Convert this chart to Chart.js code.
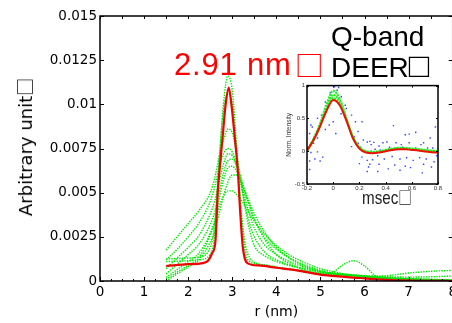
<!DOCTYPE html>
<html>
<head>
<meta charset="utf-8">
<script src="https://cdn.jsdelivr.net/npm/chart.js@4/dist/chart.umd.min.js"></script>
<style>
  html, body { margin: 0; padding: 0; width: 452px; height: 323px; overflow: hidden; background: #fff; }
  #wrap { position: relative; width: 452px; height: 323px; overflow: hidden; }
  canvas { position: absolute; }
  #mainChart { left: 0; top: 0; }
  #insetChart { left: 282px; top: 80px; }
  .lbl { position: absolute; white-space: nowrap; line-height: 1; font-family: "Liberation Sans", Arial, sans-serif; }
  .box { font-family: "Noto Sans CJK JP", sans-serif; line-height: 0; }
</style>
</head>
<body>
<div id="wrap">
  <canvas id="mainChart" width="460" height="323"></canvas>
  <canvas id="insetChart" width="165" height="130"></canvas>
  <div class="lbl" id="ytitle" style="left:26px; top:147px; font-size:18px; font-family:'DejaVu Sans', sans-serif; transform: translate(-50%, -50%) rotate(-90deg);">Arbitrary unit<span class="box" style="font-size:18px;">□</span></div>
  <div class="lbl" style="left:174px; top:49px; font-size:31px; letter-spacing:0.8px; color:#ff0000;">2.91 nm<span class="box" style="font-size:29px; letter-spacing:0; position:relative; left:3px; top:2px;">□</span></div>
  <div class="lbl" style="left:331px; top:23px; font-size:28px; color:#000;">Q-band</div>
  <div class="lbl" style="left:331px; top:54px; font-size:28px; color:#000;">DEER<span style="font-size:34px; line-height:0;">□</span></div>
  <div class="lbl" style="left:362px; top:188px; font-size:19px; color:#222; transform: scaleX(0.8); transform-origin: left top;">msec<span class="box" style="font-size:17px;">□</span></div>
</div>
<script>
// 主グラフ: 距離分布 (縦軸は ×10^-3 単位で保持)
const xTickLabels = ['0', '1', '2', '3', '4', '5', '6', '7', '8'];
const yTickLabels = ['0', '0.0025', '0.005', '0.0075', '0.01', '0.0125', '0.015'];

// フィット結果 (赤)
const redX = [1.5, 2.0, 2.3, 2.45, 2.55, 2.62, 2.67, 2.72, 2.79, 2.85, 2.92, 2.98, 3.05, 3.13, 3.18, 3.24, 3.35, 3.6, 4.0, 4.4, 5.1, 5.9, 6.6, 7.4, 8.0];
const redY = [0.85, 0.95, 1.0, 1.15, 1.6, 2.3, 5.0, 6.5, 8.4, 10.0, 10.95, 10.0, 8.3, 6.1, 3.9, 1.9, 1.0, 0.88, 0.75, 0.63, 0.33, 0.17, 0.05, 0.01, 0.0];

// 検証用の分布 (緑, 点線)
const greenX = [1.5, 1.75, 2.0, 2.25, 2.5, 2.6, 2.7, 2.8, 2.9, 3.0, 3.1, 3.2, 3.3, 3.4, 3.5, 3.75, 4.0, 4.25, 4.5, 5.0, 5.25, 5.5, 5.75, 6.0, 6.25, 6.5, 7.0, 7.5, 8.0];
const green1 = [1.1, 1.12, 1.15, 1.2, 1.5, 2.6, 6.5, 10.0, 11.6, 10.8, 7.5, 3.8, 1.6, 1.1, 1.0, 0.9, 0.8, 0.7, 0.62, 0.45, 0.4, 0.34, 0.3, 0.25, 0.2, 0.16, 0.1, 0.05, 0.02];
const green2 = [1.25, 1.27, 1.3, 1.35, 1.9, 3.2, 6.8, 9.6, 10.6, 10.0, 7.2, 4.0, 2.0, 1.3, 1.05, 0.9, 0.78, 0.68, 0.6, 0.42, 0.36, 0.3, 0.26, 0.22, 0.18, 0.14, 0.08, 0.03, 0.01];
const green3 = [1.75, 2.5, 3.25, 4.0, 5.0, 5.8, 7.0, 8.0, 8.6, 8.4, 7.2, 5.6, 4.0, 2.8, 2.0, 1.4, 1.1, 0.9, 0.75, 0.5, 0.42, 0.36, 0.32, 0.28, 0.24, 0.2, 0.14, 0.1, 0.06];
const green4 = [1.2, 1.8, 2.5, 3.3, 4.5, 5.3, 6.4, 7.2, 7.5, 7.3, 6.6, 5.4, 4.2, 3.2, 2.5, 1.6, 1.2, 0.95, 0.78, 0.52, 0.45, 0.4, 0.35, 0.3, 0.28, 0.3, 0.45, 0.55, 0.6];
const green5 = [0.7, 1.3, 1.9, 2.6, 3.8, 4.5, 5.6, 6.6, 7.2, 7.1, 6.5, 5.6, 4.6, 3.7, 3.0, 2.0, 1.5, 1.15, 0.9, 0.55, 0.45, 0.38, 0.32, 0.28, 0.25, 0.24, 0.22, 0.24, 0.28];
const green6 = [0.4, 0.95, 1.5, 2.1, 3.2, 3.9, 5.0, 6.1, 6.8, 6.9, 6.5, 5.8, 5.0, 4.2, 3.5, 2.4, 1.8, 1.35, 1.0, 0.55, 0.45, 0.38, 0.32, 0.27, 0.22, 0.18, 0.12, 0.08, 0.05];
const green7 = [0.2, 0.65, 1.1, 1.6, 2.7, 3.4, 4.6, 5.7, 6.4, 6.5, 6.2, 5.6, 4.9, 4.2, 3.5, 2.3, 1.5, 1.05, 0.75, 0.38, 0.45, 0.9, 1.15, 0.85, 0.3, 0.15, 0.08, 0.04, 0.02];
const green8 = [0.0, 0.4, 0.8, 1.2, 2.2, 2.8, 3.8, 4.8, 5.6, 6.0, 6.0, 5.6, 5.0, 4.4, 3.8, 2.7, 1.9, 1.4, 1.05, 0.6, 0.45, 0.35, 0.28, 0.22, 0.18, 0.14, 0.08, 0.05, 0.03];
const green9 = [0.1, 0.5, 0.9, 1.35, 2.6, 3.3, 4.2, 4.8, 5.1, 5.1, 4.9, 4.6, 4.2, 3.8, 3.4, 2.6, 2.0, 1.55, 1.2, 0.7, 0.55, 0.42, 0.34, 0.28, 0.22, 0.18, 0.12, 0.08, 0.05];
const greenSeries = [green1, green2, green3, green4, green5, green6, green7, green8, green9];

// 挿入図: DEER 時間領域
const insetXTickLabels = ['-0.2', '0', '0.2', '0.4', '0.6', '0.8'];
const insetYTickLabels = ['-0.5', '0', '0.5', '1'];
const insetX = [-0.2, -0.15, -0.1, -0.05, 0, 0.05, 0.1, 0.15, 0.2, 0.25, 0.3, 0.35, 0.4, 0.45, 0.5, 0.55, 0.6, 0.65, 0.7, 0.75, 0.8];
const insetRed = [0.01, 0.17, 0.38, 0.62, 0.78, 0.70, 0.47, 0.20, 0.04, -0.02, -0.03, -0.02, 0.0, 0.02, 0.03, 0.03, 0.02, 0.01, -0.005, -0.015, -0.02];
const insetGreenA = [0.0, 0.19, 0.42, 0.72, 0.92, 0.80, 0.50, 0.22, 0.06, 0.0, -0.01, 0.0, 0.02, 0.04, 0.05, 0.05, 0.04, 0.03, 0.02, 0.01, 0.0];
const insetGreenB = [0.0, 0.18, 0.40, 0.68, 0.86, 0.76, 0.49, 0.21, 0.05, -0.01, -0.02, -0.01, 0.01, 0.03, 0.04, 0.04, 0.03, 0.02, 0.01, 0.0, -0.01];
const insetGreenC = [0.01, 0.17, 0.39, 0.64, 0.81, 0.72, 0.48, 0.21, 0.05, -0.01, -0.02, -0.01, 0.01, 0.03, 0.04, 0.04, 0.03, 0.02, 0.01, 0.0, 0.0];
const dotX = [0.011, 0.041, 0.03, -0.022, 0.062, -0.06, 0.092, -0.04, 0.10, 0.06, -0.09, -0.12, 0.14, 0.17, 0.0, -0.17, -0.16, -0.03, 0.22, -0.06, 0.19, 0.02, -0.12, -0.18, 0.16, 0.23, 0.26, 0.28, 0.19, 0.14, -0.15, -0.2, 0.21, -0.12, -0.17, -0.08, -0.18, -0.14, -0.1, 0.22, 0.26, 0.2, 0.27, -0.18, 0.26,
  0.46, 0.63, 0.78, 0.55, 0.58, 0.74, 0.31, 0.29, 0.35, 0.38, 0.41, 0.48, 0.52, 0.58, 0.67, 0.69, 0.76, 0.32, 0.36, 0.43, 0.53, 0.63, 0.72, 0.3, 0.34, 0.39, 0.45, 0.51, 0.56, 0.61, 0.66, 0.71, 0.77, 0.35, 0.47, 0.55, 0.69, 0.75, 0.34, 0.42, 0.51, 0.59, 0.68, 0.28, 0.79, 0.29];
const dotY = [0.98, 0.97, 0.93, 0.89, 0.83, 0.75, 0.70, 0.69, 0.65, 0.57, 0.55, 0.5, 0.55, 0.45, 0.45, 0.4, 0.37, 0.4, 0.45, 0.33, 0.3, 0.27, 0.2, 0.27, 0.22, 0.17, 0.14, 0.15, 0.12, 0.07, 0.12, 0.05, 0.06, -0.01, -0.02, -0.09, -0.15, -0.12, -0.15, -0.09, -0.14, -0.19, -0.24, -0.28, -0.31,
  0.39, 0.29, 0.37, 0.25, 0.26, 0.2, 0.135, 0.1, 0.08, 0.13, 0.14, 0.13, 0.1, 0.13, 0.1, 0.13, 0.05, 0.03, 0.02, 0.06, 0.06, 0.05, 0.05, -0.13, -0.07, -0.12, -0.08, -0.12, -0.1, -0.14, -0.1, -0.12, -0.16, -0.2, -0.21, -0.23, -0.2, -0.24, -0.31, -0.27, -0.29, -0.25, -0.33, -0.2, -0.07, 0.0];

/**
 * 枠線と内向きの目盛を描画するプラグイン (MATLAB風)
 */
const frameTicks = {
    id: 'frameTicks',
    beforeDraw(chart) {
        const {ctx, chartArea: a} = chart;
        ctx.save();
        ctx.fillStyle = '#fff';
        ctx.fillRect(a.left, a.top, a.right - a.left, a.bottom - a.top);
        ctx.restore();
    },
    afterDraw(chart, args, opts) {
        const {ctx, chartArea: a, scales: {x, y}} = chart;
        ctx.save();
        ctx.strokeStyle = '#000';
        ctx.lineWidth = opts.lineWidth;
        ctx.strokeRect(a.left, a.top, a.right - a.left, a.bottom - a.top);
        ctx.lineWidth = 1;
        // 横軸の目盛 (下と上)
        const nx = Math.round((x.max - x.min) / opts.xStep);
        for (let i = 0; i <= nx; i++) {
            const v = x.min + i * opts.xStep;
            const px = Math.round(x.getPixelForValue(v)) + 0.5;
            const major = i % opts.xMajorEvery === 0;
            const len = major ? opts.majorLen : opts.minorLen;
            ctx.beginPath();
            ctx.moveTo(px, a.bottom);
            ctx.lineTo(px, a.bottom - len);
            if (i % opts.xTopEvery === 0) {
                ctx.moveTo(px, a.top);
                ctx.lineTo(px, a.top + opts.minorLen + 1);
            }
            ctx.stroke();
        }
        // 縦軸の目盛 (左と右)
        const ny = Math.round((y.max - y.min) / opts.yStep);
        for (let i = 0; i <= ny; i++) {
            const py = Math.round(y.getPixelForValue(y.min + i * opts.yStep)) + 0.5;
            ctx.beginPath();
            ctx.moveTo(a.left, py);
            ctx.lineTo(a.left + opts.majorLen, py);
            ctx.moveTo(a.right, py);
            ctx.lineTo(a.right - opts.majorLen, py);
            ctx.stroke();
        }
        ctx.restore();
    }
};

function toPoints(xs, ys) {
    return xs.map((v, i) => ({x: v, y: ys[i]}));
}

(function() {
    // 1) 主グラフ
    const mainDatasets = [{
        data: toPoints(redX, redY),
        borderColor: '#f00000',
        borderWidth: 2.2,
        pointRadius: 0,
        cubicInterpolationMode: 'monotone'
    }];
    greenSeries.forEach(g => {
        mainDatasets.push({
            data: toPoints(greenX, g),
            borderColor: '#00e600',
            borderWidth: 1.4,
            borderDash: [1.4, 1.2],
            pointRadius: 0,
            cubicInterpolationMode: 'monotone'
        });
    });

    new Chart(document.getElementById('mainChart'), {
        type: 'line',
        data: {datasets: mainDatasets},
        options: {
            responsive: false,
            animation: false,
            events: [],
            layout: {padding: {top: 16, right: 7, left: 0, bottom: 0}},
            plugins: {
                legend: {display: false},
                tooltip: {enabled: false},
                frameTicks: {lineWidth: 1.5, xStep: 0.25, xMajorEvery: 4, xTopEvery: 2, yStep: 2.5, majorLen: 4, minorLen: 2}
            },
            scales: {
                x: {
                    type: 'linear', min: 0, max: 8,
                    grid: {display: false, drawTicks: false}, border: {display: false},
                    ticks: {
                        stepSize: 1, autoSkip: false, maxRotation: 0, padding: 3, color: '#000',
                        font: {family: 'DejaVu Sans', size: 13.5},
                        callback: (v, i) => xTickLabels[i]
                    },
                    title: {display: true, text: 'r (nm)', color: '#000', font: {family: 'DejaVu Sans', size: 14}, padding: {top: 0, bottom: 2}},
                    afterFit: s => { s.height = 42; }
                },
                y: {
                    min: 0, max: 15,
                    grid: {display: false, drawTicks: false}, border: {display: false},
                    ticks: {
                        stepSize: 2.5, autoSkip: false, padding: 3, color: '#000',
                        font: {family: 'DejaVu Sans', size: 13.5},
                        callback: (v, i) => yTickLabels[i]
                    },
                    afterFit: s => { s.width = 100; }
                }
            }
        },
        plugins: [frameTicks]
    });

    // 2) 挿入図
    const insetDatasets = [
        {data: toPoints(insetX, insetRed), borderColor: '#ee1100', borderWidth: 2, pointRadius: 0, cubicInterpolationMode: 'monotone'},
        {data: toPoints(insetX, insetGreenA), borderColor: '#22ee22', borderWidth: 2.2, borderDash: [2, 1], pointRadius: 0, cubicInterpolationMode: 'monotone'},
        {data: toPoints(insetX, insetGreenB), borderColor: '#22ee22', borderWidth: 2.2, borderDash: [2, 1], pointRadius: 0, cubicInterpolationMode: 'monotone'},
        {data: toPoints(insetX, insetGreenC), borderColor: '#22ee22', borderWidth: 2.2, borderDash: [2, 1], pointRadius: 0, cubicInterpolationMode: 'monotone'},
        {data: toPoints(dotX, dotY), showLine: false, pointStyle: 'rect', pointRadius: 1, pointBorderWidth: 0, pointBackgroundColor: '#3344ff'}
    ];

    new Chart(document.getElementById('insetChart'), {
        type: 'line',
        data: {datasets: insetDatasets},
        options: {
            responsive: false,
            animation: false,
            events: [],
            layout: {padding: {top: 5, right: 9, left: 0, bottom: 0}},
            plugins: {
                legend: {display: false},
                tooltip: {enabled: false},
                frameTicks: {lineWidth: 1.5, xStep: 0.2, xMajorEvery: 1, xTopEvery: 1, yStep: 0.5, majorLen: 2, minorLen: 1}
            },
            scales: {
                x: {
                    type: 'linear', min: -0.2, max: 0.8,
                    grid: {display: false, drawTicks: false}, border: {display: false},
                    ticks: {
                        stepSize: 0.2, autoSkip: false, maxRotation: 0, padding: 1, color: '#333',
                        font: {family: 'Liberation Sans', size: 6},
                        callback: (v, i) => insetXTickLabels[i]
                    },
                    afterFit: s => { s.height = 26; }
                },
                y: {
                    min: -0.5, max: 1,
                    grid: {display: false, drawTicks: false}, border: {display: false},
                    ticks: {
                        stepSize: 0.5, autoSkip: false, padding: 2, color: '#333',
                        font: {family: 'Liberation Sans', size: 6},
                        callback: (v, i) => insetYTickLabels[i]
                    },
                    title: {display: true, text: 'Norm. Intensity', color: '#333', font: {family: 'Liberation Sans', size: 6.5}, padding: {top: 3, bottom: 0}},
                    afterFit: s => { s.width = 25; }
                }
            }
        },
        plugins: [frameTicks]
    });
})();
</script>
</body>
</html>
